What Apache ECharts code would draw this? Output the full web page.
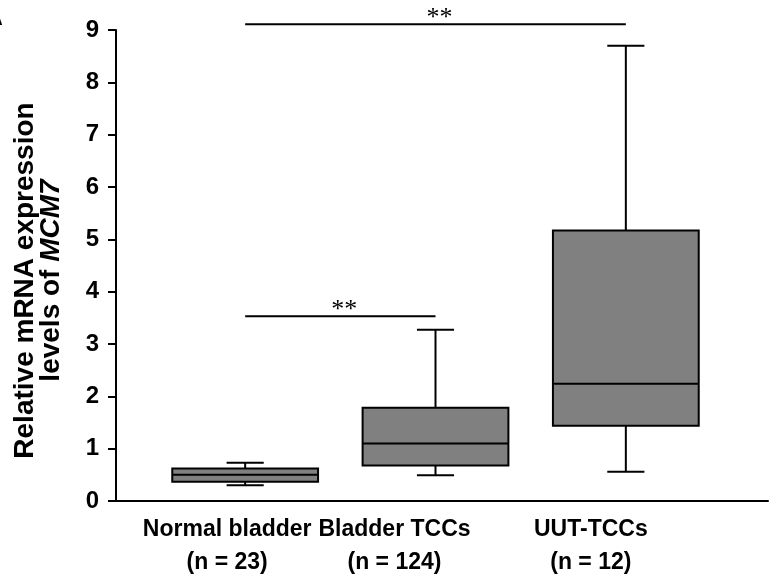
<!DOCTYPE html>
<html>
<head>
<meta charset="utf-8">
<script src="https://cdn.jsdelivr.net/npm/echarts@6/dist/echarts.min.js"></script>
<style>
html,body{margin:0;padding:0;background:#fff;}
#chart{width:769px;height:580px;}
</style>
</head>
<body>
<div id="chart"></div>
<script>
// ---- data ----
var categories = ['Normal bladder', 'Bladder TCCs', 'UUT-TCCs'];
var sampleSizes = ['(n = 23)', '(n = 124)', '(n = 12)'];
var lowWhisker = [0.30, 0.49, 0.56];
var q1 = [0.37, 0.68, 1.44];
var median = [0.50, 1.10, 2.24];
var q3 = [0.62, 1.78, 5.17];
var highWhisker = [0.73, 3.27, 8.70];
var sigFrom = [0, 0];
var sigTo = [1, 2];
var sigLevel = [3.53, 9.11];
var sigText = ['**', '**'];
var yTicks = [0, 1, 2, 3, 4, 5, 6, 7, 8, 9];

// ---- styles ----
var labelShift = [36, 82, 70];
var FONT = 'Liberation Sans, Arial, sans-serif';

var boxData = categories.map(function (c, i) {
  return [i, lowWhisker[i], q1[i], median[i], q3[i], highWhisker[i]];
});
var sigData = sigFrom.map(function (f, i) {
  return [f, sigTo[i], sigLevel[i], sigText[i]];
});

var chart = echarts.init(document.getElementById('chart'), null, {renderer: 'canvas'});

function xRich(shift) {
  return {fontFamily: FONT, fontSize: 23, fontWeight: 'bold', color: '#000', lineHeight: 33, padding: [0, shift, 0, 0]};
}

var option = {
  backgroundColor: '#fff',
  animation: false,
  title: {
    text: 'A', left: -14, top: 8,
    textStyle: {fontFamily: FONT, fontSize: 16, fontWeight: 'bold', color: '#000'}
  },
  grid: [
    {left: 116, right: 1, top: 30, bottom: 79},
    {left: 150, width: 571, top: 30, bottom: 79}
  ],
  xAxis: [
    {
      type: 'value', gridIndex: 0, min: 0, max: 1,
      axisLine: {show: true, lineStyle: {color: '#000', width: 2}},
      axisTick: {show: false}, axisLabel: {show: false}, splitLine: {show: false}
    },
    {
      type: 'category', gridIndex: 1, data: categories,
      axisLine: {show: false}, axisTick: {show: false}, splitLine: {show: false},
      axisLabel: {
        margin: 12, interval: 0, hideOverlap: false,
        formatter: function (v, i) {
          return '{c' + i + '|' + v + '}\n{c' + i + '|' + sampleSizes[i] + '}';
        },
        rich: {
          c0: xRich(labelShift[0]),
          c1: xRich(labelShift[1]),
          c2: xRich(labelShift[2])
        }
      }
    }
  ],
  yAxis: [
    {
      type: 'value', gridIndex: 0, min: 0, max: 9, interval: 1,
      axisLine: {show: true, lineStyle: {color: '#000', width: 2}},
      axisTick: {show: true, inside: false, length: 8, lineStyle: {color: '#000', width: 2}},
      splitLine: {show: false},
      axisLabel: {
        margin: 17, color: '#000', fontFamily: FONT, fontSize: 24, fontWeight: 'bold',
        formatter: function (v) { return yTicks.indexOf(v) >= 0 ? String(v) : ''; }
      },
      name: '{b|Relative mRNA expression}\n{b|levels of }{i|MCM7}',
      nameLocation: 'middle', nameRotate: 90, nameGap: 52,
      nameTextStyle: {
        padding: [0, 30, 0, 0],
        rich: {
          b: {fontFamily: FONT, fontSize: 28, fontWeight: 'bold', color: '#000', lineHeight: 26},
          i: {fontFamily: FONT, fontSize: 28, fontWeight: 'bold', fontStyle: 'italic', color: '#000', lineHeight: 26}
        }
      }
    },
    {
      type: 'value', gridIndex: 1, min: 0, max: 9, show: false,
      splitLine: {show: false}
    }
  ],
  series: [
    {
      type: 'custom', name: 'box', xAxisIndex: 1, yAxisIndex: 1,
      data: boxData,
      encode: {x: 0, y: [1, 2, 3, 4, 5]},
      renderItem: function (params, api) {
        var x = api.value(0);
        var band = api.size([1, 0])[0];
        var bw = band * 0.766, cw = band * 0.195;
        var pLow = api.coord([x, api.value(1)]);
        var pQ1 = api.coord([x, api.value(2)]);
        var pMed = api.coord([x, api.value(3)]);
        var pQ3 = api.coord([x, api.value(4)]);
        var pHigh = api.coord([x, api.value(5)]);
        var cx = pLow[0];
        var ls = {stroke: '#000', lineWidth: 2};
        return {
          type: 'group',
          children: [
            {type: 'line', shape: {x1: cx, y1: pQ3[1], x2: cx, y2: pHigh[1]}, style: ls},
            {type: 'line', shape: {x1: cx, y1: pQ1[1], x2: cx, y2: pLow[1]}, style: ls},
            {type: 'line', shape: {x1: cx - cw / 2, y1: pHigh[1], x2: cx + cw / 2, y2: pHigh[1]}, style: ls},
            {type: 'line', shape: {x1: cx - cw / 2, y1: pLow[1], x2: cx + cw / 2, y2: pLow[1]}, style: ls},
            {type: 'rect', shape: {x: cx - bw / 2, y: pQ3[1], width: bw, height: pQ1[1] - pQ3[1]},
              style: {fill: '#808080', stroke: '#000', lineWidth: 2}},
            {type: 'line', shape: {x1: cx - bw / 2, y1: pMed[1], x2: cx + bw / 2, y2: pMed[1]}, style: ls}
          ]
        };
      }
    },
    {
      type: 'custom', name: 'sig', xAxisIndex: 1, yAxisIndex: 1,
      data: sigData,
      encode: {x: [0, 1], y: 2},
      renderItem: function (params, api) {
        var a = api.coord([api.value(0), api.value(2)]);
        var b = api.coord([api.value(1), api.value(2)]);
        var txt = sigData[params.dataIndex][3];
        return {
          type: 'group',
          children: [
            {type: 'line', shape: {x1: a[0], y1: a[1], x2: b[0], y2: b[1]}, style: {stroke: '#000', lineWidth: 2}},
            {type: 'text', x: (a[0] + b[0]) / 2 + 4, y: a[1] + 7,
              style: {text: txt, fill: '#000', font: '26px "Liberation Serif", "Times New Roman", serif',
                align: 'center', verticalAlign: 'bottom'}}
          ]
        };
      }
    }
  ]
};
chart.setOption(option);
</script>
</body>
</html>
